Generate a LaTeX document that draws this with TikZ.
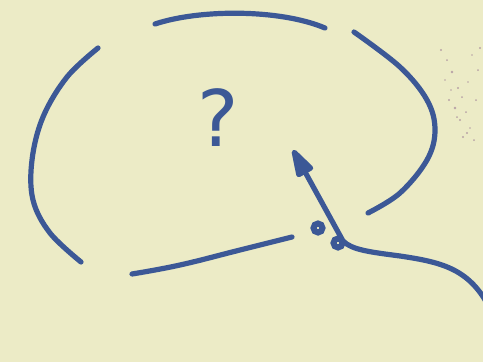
\documentclass[tikz,border=0pt]{standalone}
\usepackage{fontspec}
\newfontfamily\qfont{DejaVu Sans}
\usetikzlibrary{arrows.meta}
\definecolor{paper}{RGB}{236,235,198}
\definecolor{ink}{RGB}{60,88,150}
\definecolor{stain}{RGB}{150,115,145}
\begin{document}
\begin{tikzpicture}[x=1pt,y=-1pt,
  stroke/.style={draw=ink,line width=5.2pt,line cap=round,line join=round},
  ring/.style={circle,draw=ink,line width=6pt,minimum size=9pt,inner sep=0pt},
  speck/.style={fill=stain,opacity=0.6},
  qmark/.style={text=ink,font=\qfont\fontsize{78}{78}\selectfont,inner sep=0pt}]
\fill[paper] (0,0) rectangle (483,362);
\useasboundingbox (0,0) rectangle (483,362);
% stain specks
\foreach \x/\y/\r in {441/50/1.2,447/60/1,452/72/1.3,445/80/0.9,458/88/1.2,462/97/1,449/100/1.1,455/108/1.3,466/112/1,460/120/1.2,470/128/0.9,463/137/1.1,474/140/1,478/70/1,472/55/0.9,480/48/1.1,468/82/0.8,476/100/1,451/90/0.9,457/117/1,467/133/1.2}
  \fill[speck] (\x,\y) circle (\r);
% broken ellipse
\draw[stroke] (155,24) .. controls (200,9) and (280,9) .. (325,28);
\draw[stroke] plot[smooth,tension=0.6] coordinates {(354,32) (400,67) (427,100) (435,130) (427,160) (400,193) (368,213)};
\draw[stroke] plot[smooth,tension=0.6] coordinates {(98,48) (67,77) (43,117) (32,160) (33,200) (50,233) (81,262)};
\draw[stroke] plot[smooth,tension=0.7] coordinates {(132,274) (180,265) (240,250) (292,237)};
% question mark
\node[qmark] (q) at (218,118) {?};
% small rings
\node[ring] (c1) at (318,228) {};
\node[ring] (c2) at (338,243) {};
% arrow
\coordinate (start) at (488,305);
\coordinate (bend) at (343,241);
\coordinate (tip) at (293,150);
\draw[stroke,-{Triangle[length=34pt,width=19pt,round]}] (start) .. controls (468,268) and (440,262) .. (400,256) .. controls (370,252) and (352,250) .. (bend) -- (tip);
\end{tikzpicture}
\end{document}
